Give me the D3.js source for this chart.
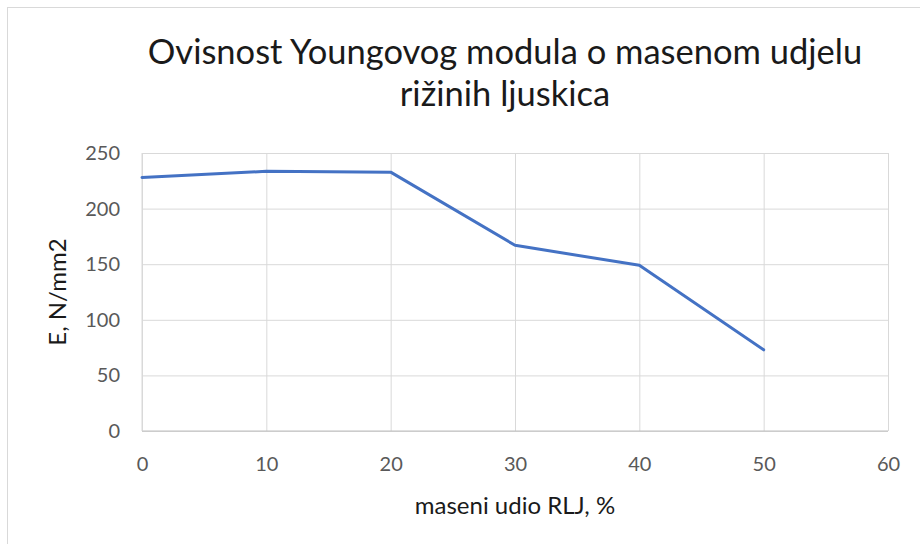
<!DOCTYPE html>
<html>
<head>
<meta charset="utf-8">
<script src="https://cdn.jsdelivr.net/npm/d3@7"></script>
<style>
  body { margin: 0; background: #fff; }
  svg { display: block; font-family: Lato, "Open Sans", sans-serif; }
</style>
</head>
<body>
<svg width="920" height="544"></svg>
<script>
// data
var udio = [0, 10, 20, 30, 40, 50];
var modul = [228, 233.5, 232.8, 167, 149, 73];
var xTicks = [0, 10, 20, 30, 40, 50, 60];
var yTicks = [0, 50, 100, 150, 200, 250];
var titleLines = ["Ovisnost Youngovog modula o masenom udjelu", "rižinih ljuskica"];

var margin = {top: 153, right: 32, bottom: 113, left: 142},
    width = 920 - margin.left - margin.right,
    height = 544 - margin.top - margin.bottom;

var svg = d3.select("svg");

// outer chart border
svg.append("rect")
    .attr("x", 7.5).attr("y", 7.5)
    .attr("width", 930).attr("height", 560)
    .style("fill", "none")
    .style("stroke", "#d9d9d9");

var g = svg.append("g")
    .attr("transform", "translate(" + margin.left + "," + margin.top + ")");

var xScale = d3.scaleLinear().domain([0, 60]).range([0, width]);
var yScale = d3.scaleLinear().domain([0, 250]).range([height, 0]);

// gridlines
g.append("g")
    .call(d3.axisLeft(yScale).tickValues(yTicks).tickSize(-width).tickFormat(""))
    .call(function(a) {
        a.select(".domain").remove();
        a.selectAll("line").style("stroke", "#d9d9d9");
    });
g.append("g")
    .attr("transform", "translate(0," + height + ")")
    .call(d3.axisBottom(xScale).tickValues(xTicks).tickSize(-height).tickFormat(""))
    .call(function(a) {
        a.select(".domain").remove();
        a.selectAll("line").style("stroke", "#d9d9d9");
    });

// axis lines
g.append("line")
    .attr("x1", 0).attr("x2", width)
    .attr("y1", height).attr("y2", height)
    .style("stroke", "#bfbfbf");
g.append("line")
    .attr("x1", 0).attr("x2", 0)
    .attr("y1", 0).attr("y2", height)
    .style("stroke", "#d9d9d9");

// tick labels
var xAxis = g.append("g")
    .attr("transform", "translate(0," + height + ")")
    .call(d3.axisBottom(xScale).tickValues(xTicks).tickSize(0).tickPadding(26));
xAxis.select(".domain").remove();
xAxis.selectAll("text").style("font-size", "20px").style("fill", "#595959")
    .style("font-family", "Lato, sans-serif");

var yAxis = g.append("g")
    .call(d3.axisLeft(yScale).tickValues(yTicks).tickSize(0).tickPadding(22));
yAxis.select(".domain").remove();
yAxis.selectAll("text").style("font-size", "20px").style("fill", "#595959")
    .style("font-family", "Lato, sans-serif");

// the line
var valueline = d3.line()
    .x(function(d, i) { return xScale(udio[i]); })
    .y(function(d) { return yScale(d); });

g.append("path")
    .datum(modul)
    .attr("d", valueline)
    .style("fill", "none")
    .style("stroke", "#4472c4")
    .style("stroke-width", 3)
    .style("stroke-linejoin", "round")
    .style("stroke-linecap", "round");

// title
svg.append("g").selectAll("text")
    .data(titleLines)
    .enter().append("text")
    .attr("x", 505)
    .attr("y", function(d, i) { return 64 + i * 42; })
    .attr("text-anchor", "middle")
    .style("font-size", "34.5px")
    .style("fill", "#1a1a1a")
    .text(function(d) { return d; });

// axis titles
svg.append("text")
    .attr("x", margin.left + width / 2)
    .attr("y", 514)
    .attr("text-anchor", "middle")
    .style("font-size", "24px")
    .style("fill", "#1a1a1a")
    .text("maseni udio RLJ, %");

svg.append("text")
    .attr("transform", "translate(66," + (margin.top + height / 2) + ") rotate(-90)")
    .attr("text-anchor", "middle")
    .style("font-size", "24px")
    .style("fill", "#1a1a1a")
    .text("E, N/mm2");
</script>
</body>
</html>
